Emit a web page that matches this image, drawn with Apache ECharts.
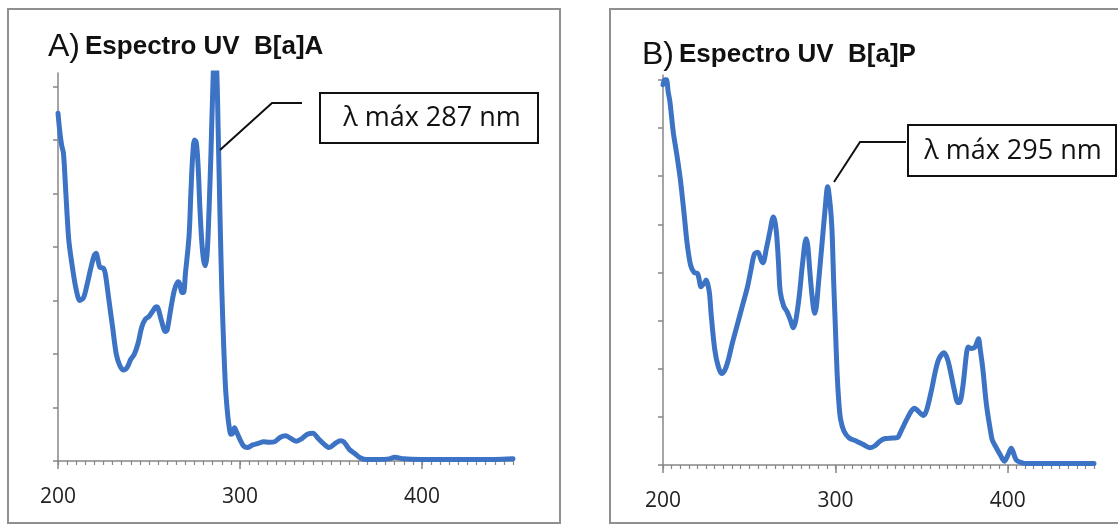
<!DOCTYPE html>
<html>
<head>
<meta charset="utf-8">
<script src="https://cdn.jsdelivr.net/npm/echarts@6.0.0/dist/echarts.min.js"></script>
<style>
  html, body { margin: 0; padding: 0; background: #fff; }
  #chart { width: 1118px; height: 526px; }
</style>
</head>
<body>
<div id="chart"></div>
<script>
// espectro A: B[a]A  (longitud de onda en nm, absorbancia sin escala)
const wavelengthsA = [200, 201, 202, 203, 204, 205, 206, 208, 210, 212, 214, 216, 218, 220, 221, 222, 223, 225, 226, 228,
  230, 232, 234, 236, 238, 240, 242, 244, 246, 248, 250, 252, 254, 255, 257, 259, 260, 262, 264, 266,
  267, 268, 269, 270, 272, 273, 274, 275, 276, 277, 278, 279, 280, 281, 282, 283, 284, 285, 286, 287,
  288, 289, 290, 291, 292, 293, 294, 295, 296, 297, 298, 300, 302, 304, 307, 310, 313, 316, 319, 322,
  325, 328, 331, 334, 337, 340, 343, 346, 349, 352, 355, 357, 360, 363, 366, 369, 375, 382, 385, 390,
  400, 410, 420, 430, 440, 450];
const absorbanceA = [6.5, 6.15, 5.9, 5.75, 5.2, 4.6, 4.1, 3.6, 3.2, 3.0, 3.05, 3.3, 3.6, 3.85, 3.88, 3.75, 3.62, 3.6, 3.5, 3.0,
  2.5, 2.0, 1.78, 1.7, 1.75, 1.9, 2.0, 2.2, 2.5, 2.65, 2.7, 2.8, 2.88, 2.85, 2.6, 2.42, 2.45, 2.85, 3.2, 3.35,
  3.3, 3.15, 3.15, 3.5, 4.2, 5.0, 5.7, 6.0, 5.95, 5.5, 4.7, 4.1, 3.75, 3.65, 3.9, 4.7, 5.7, 6.9, 7.6, 7.5,
  6.2, 4.6, 3.2, 2.2, 1.4, 0.95, 0.65, 0.5, 0.52, 0.62, 0.55, 0.4, 0.28, 0.25, 0.3, 0.33, 0.36, 0.35, 0.36, 0.44,
  0.47, 0.42, 0.37, 0.42, 0.5, 0.52, 0.42, 0.32, 0.25, 0.32, 0.38, 0.36, 0.22, 0.14, 0.06, 0.03, 0.03, 0.04, 0.07, 0.04,
  0.03, 0.03, 0.03, 0.03, 0.03, 0.04];

// espectro B: B[a]P
const wavelengthsB = [200, 201, 202, 203, 204, 206, 208, 210, 212, 214, 216, 218, 220, 221, 222, 224, 225, 226, 227, 228,
  230, 232, 234, 236, 238, 240, 243, 246, 249, 251, 253, 255, 257, 258, 260, 262, 264, 265, 266, 267,
  268, 270, 272, 274, 275.5, 277, 279, 281, 283, 284, 285, 286.5, 288, 289, 290, 292, 294, 295.5, 297, 298,
  299, 300, 301, 302, 303, 305, 308, 312, 316, 320, 323, 326, 329, 333, 336, 338, 341, 344, 346, 348,
  351, 353, 356, 358, 360, 363, 365, 367, 369, 371, 372, 374, 376, 377, 379, 381, 383, 384, 385.5, 387,
  388, 390, 391, 393, 395, 397, 398, 400, 402, 403, 405, 408, 411, 420, 430, 440, 450];
const absorbanceB = [7.9, 8.0, 8.0, 7.75, 7.55, 6.9, 6.45, 5.95, 5.3, 4.6, 4.15, 4.0, 3.98, 3.85, 3.7, 3.78, 3.84, 3.75, 3.55, 3.1,
  2.4, 2.05, 1.9, 1.98, 2.2, 2.5, 2.9, 3.3, 3.7, 4.05, 4.38, 4.42, 4.25, 4.2, 4.5, 4.85, 5.15, 5.05, 4.75, 4.2,
  3.6, 3.3, 3.18, 3.0, 2.85, 3.0, 3.5, 4.2, 4.7, 4.55, 4.1, 3.5, 3.15, 3.3, 3.7, 4.5, 5.3, 5.78, 5.4, 4.9,
  3.8, 2.85, 1.9, 1.3, 0.95, 0.7, 0.56, 0.5, 0.43, 0.36, 0.4, 0.5, 0.55, 0.56, 0.57, 0.7, 0.92, 1.12, 1.18, 1.12,
  1.03, 1.15, 1.6, 1.95, 2.2, 2.33, 2.2, 1.9, 1.55, 1.3, 1.3, 1.65, 2.3, 2.45, 2.42, 2.45, 2.62, 2.4, 2.0, 1.45,
  1.15, 0.7, 0.52, 0.38, 0.25, 0.12, 0.08, 0.2, 0.35, 0.28, 0.1, 0.05, 0.03, 0.03, 0.03, 0.03, 0.03];

const xTickLabels = [200, 300, 400];
const yTicksA = [0, 1, 2, 3, 4, 5, 6, 7];
const yTicksB = [0, 1, 2, 3, 4, 5, 6, 7, 8];
const panelLetters = ['A)', 'B)'];
const panelTitles = ['Espectro UV  B[a]A', 'Espectro UV  B[a]P'];
const maxLabels = ['\u03bb m\u00e1x 287 nm', '\u03bb m\u00e1x 295 nm'];

const blue = '#3d73c4';
const axisGrey = '#878787';
const frameGrey = '#8f8f8f';
const labelFont = '"Open Sans", "DejaVu Sans", sans-serif';
const titleFont = '"Liberation Sans", Arial, sans-serif';

function pairs(xs, ys) {
  return xs.map((x, i) => [x, ys[i]]);
}

// eje x: uno con las marcas menores cada 5 nm y etiquetas, otro con las marcas largas
function minorX(gridIndex) {
  return {
    type: 'value', gridIndex: gridIndex, position: 'bottom', min: 200, max: 450, interval: 5,
    axisLine: { lineStyle: { color: axisGrey, width: 1.5 } },
    axisTick: { length: 4, lineStyle: { color: axisGrey, width: 1.2 } },
    axisLabel: { customValues: xTickLabels, fontSize: 21, color: '#222', margin: 26, fontFamily: labelFont },
    splitLine: { show: false }
  };
}
function majorX(gridIndex) {
  return {
    type: 'value', gridIndex: gridIndex, position: 'bottom', offset: 0, min: 200, max: 450, interval: 100,
    axisLine: { show: false },
    axisTick: { customValues: xTickLabels, length: 8, lineStyle: { color: axisGrey, width: 1.5 } },
    axisLabel: { show: false },
    splitLine: { show: false }
  };
}
function yAx(gridIndex, max, ticks) {
  return {
    type: 'value', gridIndex: gridIndex, min: 0, max: max,
    axisLine: { show: true, lineStyle: { color: axisGrey, width: 1.5 } },
    axisTick: { show: true, customValues: ticks, length: 5, lineStyle: { color: axisGrey, width: 1.5 } },
    axisLabel: { show: false },
    splitLine: { show: false }
  };
}
function spectrum(axisIndex, data) {
  return {
    type: 'line', xAxisIndex: axisIndex, yAxisIndex: axisIndex / 2,
    data: data, smooth: 0.3, showSymbol: false, clip: true,
    lineStyle: { color: blue, width: 5, cap: 'round', join: 'round' }
  };
}
function titleRich() {
  return {
    l: { fontSize: 32, fontWeight: 'normal', fontFamily: titleFont, color: '#111' },
    t: { fontSize: 26, fontWeight: 'bold', fontFamily: titleFont, color: '#111' }
  };
}

const chart = echarts.init(document.getElementById('chart'));
chart.setOption({
  backgroundColor: '#fff',
  animation: false,
  title: [
    { text: '{l|' + panelLetters[0] + '} {t|' + panelTitles[0] + '}', left: 43, top: 26, textStyle: { rich: titleRich() } },
    { text: '{l|' + panelLetters[1] + '} {t|' + panelTitles[1] + '}', left: 637, top: 34, textStyle: { rich: titleRich() } }
  ],
  grid: [
    { left: 58, top: 73, width: 455, height: 388 },
    { left: 663, top: 75, width: 431, height: 390 }
  ],
  xAxis: [minorX(0), majorX(0), minorX(1), majorX(1)],
  yAxis: [yAx(0, 7.25, yTicksA), yAx(1, 8.1, yTicksB)],
  series: [
    spectrum(0, pairs(wavelengthsA, absorbanceA)),
    spectrum(2, pairs(wavelengthsB, absorbanceB))
  ],
  graphic: [
    // marcos de los dos graficos
    { type: 'rect', shape: { x: 8, y: 9, width: 552, height: 514 }, style: { fill: 'none', stroke: frameGrey, lineWidth: 2 }, z: 0 },
    { type: 'rect', shape: { x: 610, y: 9, width: 530, height: 514 }, style: { fill: 'none', stroke: frameGrey, lineWidth: 2 }, z: 0 },
    // lineas guia hacia el maximo
    { type: 'polyline', shape: { points: [[220, 150], [272, 103], [302, 103]] }, style: { fill: 'none', stroke: '#111', lineWidth: 2 }, z: 10 },
    { type: 'polyline', shape: { points: [[834, 182], [860, 142], [906, 142]] }, style: { fill: 'none', stroke: '#111', lineWidth: 2 }, z: 10 },
    // cuadros de lambda max
    { type: 'rect', shape: { x: 320, y: 93, width: 218, height: 50 }, style: { fill: '#fff', stroke: '#111', lineWidth: 2 }, z: 10 },
    { type: 'text', x: 432, y: 118, style: { text: maxLabels[0], fontSize: 27, fontFamily: labelFont, fill: '#111', align: 'center', verticalAlign: 'middle' }, z: 11 },
    { type: 'rect', shape: { x: 908, y: 125, width: 208, height: 51 }, style: { fill: '#fff', stroke: '#111', lineWidth: 2 }, z: 10 },
    { type: 'text', x: 1013, y: 151, style: { text: maxLabels[1], fontSize: 27, fontFamily: labelFont, fill: '#111', align: 'center', verticalAlign: 'middle' }, z: 11 }
  ]
});
</script>
</body>
</html>
